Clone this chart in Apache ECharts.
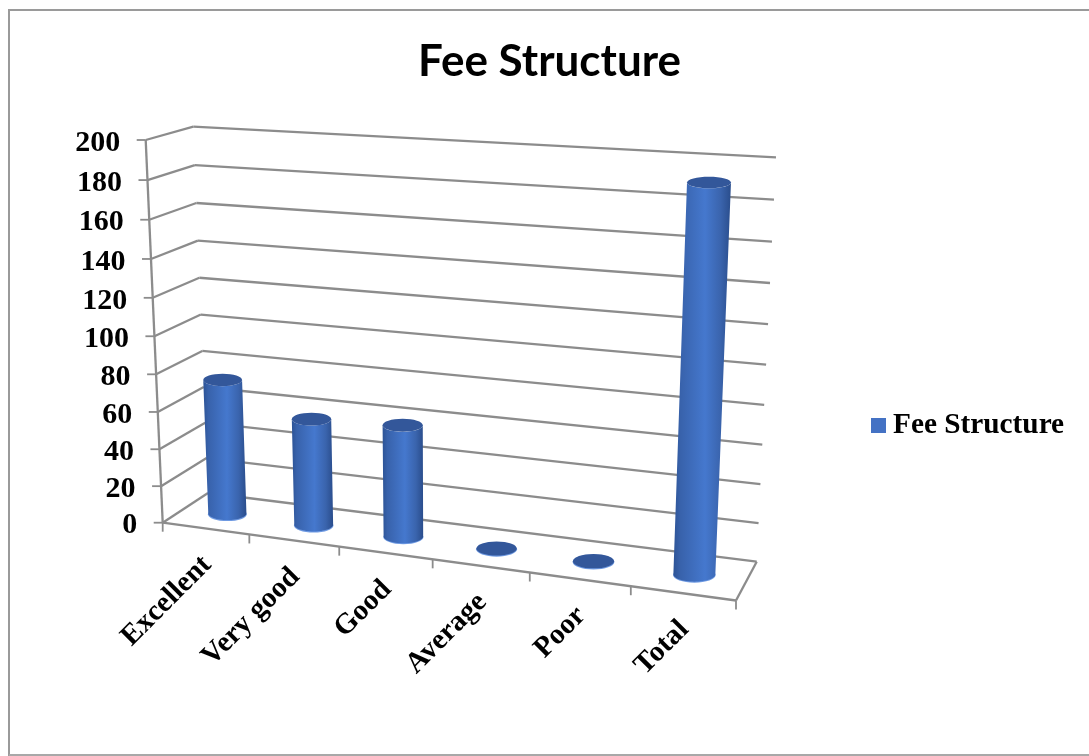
<!DOCTYPE html>
<html>
<head>
<meta charset="utf-8">
<style>html,body{margin:0;padding:0;background:#fff}#c{width:1089px;height:756px}</style>
<script src="https://cdn.jsdelivr.net/npm/echarts@6/dist/echarts.min.js"></script>
</head>
<body>
<div id="c"></div>
<script>
const titleText = 'Fee Structure';
const seriesName = 'Fee Structure';
const categories = ['Excellent', 'Very good', 'Good', 'Average', 'Poor', 'Total'];
const feeValues = [73, 57, 59, 0, 0, 191];
const yTicks = [0, 20, 40, 60, 80, 100, 120, 140, 160, 180, 200];

const G = {left: 100, top: 100, width: 600, height: 400};
const C = {
  flb: [162.7, 522.7], flt: [145.7, 140],
  blb: [208, 493],     blt: [193.3, 126.7],
  frb: [736, 600.5],   frt: [753.8, 175],
  brb: [756.7, 561.7], brt: [776, 157.3]
};
const LINE = '#8c8c8c';
const SERIF = '"Liberation Serif"';
const warp = (x, k) => k * x / (1 + (k - 1) * x);
const mix = (a, b, t) => [a[0] + (b[0] - a[0]) * t, a[1] + (b[1] - a[1]) * t];
function project(u, v, w) {
  const tu = warp(u, 0.89), tw = warp(w, 0.95);
  const fb = mix(C.flb, C.frb, tu), ft = mix(C.flt, C.frt, tu);
  const bb = mix(C.blb, C.brb, tu), bt = mix(C.blt, C.brt, tu);
  return mix(mix(fb, bb, v), mix(ft, bt, v), tw);
}
const toU = p => (p[0] - G.left) / G.width;
const toW = p => (G.top + G.height - p[1]) / G.height;
const seg = (a, b, w) => ({type: 'line', shape: {x1: a[0], y1: a[1], x2: b[0], y2: b[1]},
  style: {stroke: LINE, lineWidth: w || 2.3}, silent: true});

const cyl = () => new echarts.graphic.LinearGradient(0, 0, 1, 0, [
  {offset: 0, color: '#2c5396'}, {offset: 0.12, color: '#3862ab'},
  {offset: 0.55, color: '#4578ce'}, {offset: 0.82, color: '#3a64ad'},
  {offset: 1, color: '#2a4d8c'}]);

function renderBar(params, api) {
  const p0 = api.coord([api.value(0), 0]);
  const p1 = api.coord([api.value(0), api.value(1)]);
  const u = toU(p0), w = toW(p1);
  const b = project(u, 0.5, 0), t = project(u, 0.5, w);
  const k = warp(u, 0.89);
  const rb = 18.9 + 2.3 * k, rt = rb * (1 + 0.05 * w);
  const ryb = rb * 0.35, ryt = rt * (0.35 - 0.09 * w);
  const children = [
    {type: 'ellipse', shape: {cx: b[0], cy: b[1] + 0.8, rx: rb + 0.3, ry: ryb + 0.3},
      style: {fill: '#6f9ae2'}, silent: true}
  ];
  if (api.value(1) > 0) {
    const pts = [[t[0] - rt, t[1]]];
    for (let i = 0; i <= 32; i++) {
      const a = Math.PI - Math.PI * i / 32;
      pts.push([b[0] + rb * Math.cos(a), b[1] + ryb * Math.sin(a)]);
    }
    pts.push([t[0] + rt, t[1]]);
    for (let i = 1; i < 16; i++) {
      const a = Math.PI * i / 16;
      pts.push([t[0] + rt * Math.cos(a), t[1] + ryt * Math.sin(a)]);
    }
    children.push({type: 'polygon', shape: {points: pts}, style: {fill: cyl()}, silent: true});
  }
  children.push({type: 'ellipse', shape: {cx: t[0], cy: t[1], rx: rt, ry: ryt},
    style: {fill: '#33579a'}, silent: true});
  return {type: 'group', children};
}

function renderGrid(params, api) {
  const w = toW(api.coord([categories[0], api.value(0)]));
  const f = project(0, 0, w), bl = project(0, 1, w), br = project(1, 1, w);
  const children = [seg([f[0] - 9, f[1]], f, 1.8), seg(f, bl), seg(bl, br)];
  return {type: 'group', children};
}

function renderYLabel(params, api) {
  const w = toW(api.coord([categories[0], api.value(0)]));
  const f = project(0, 0, w);
  return {type: 'text', x: f[0] - 25.5, y: f[1] + 3, style: {text: String(api.value(0)),
    align: 'right', verticalAlign: 'middle', font: 'bold 30px ' + SERIF, fill: '#000'}, silent: true};
}

function renderFrame() {
  const fl = project(0, 0, 0), fr = project(1, 0, 0), br = project(1, 1, 0), top = project(0, 0, 1);
  const children = [seg(top, fl), seg(fl, fr), seg(fr, br)];
  for (let i = 0; i <= categories.length; i++) {
    const p = project(i / categories.length, 0, 0);
    children.push(seg(p, [p[0], p[1] + 9], 1.8));
  }
  return {type: 'group', children};
}

function renderXLabel(params, api) {
  const u = toU(api.coord([api.value(0), 0]));
  const p = project(u, 0, 0);
  return {type: 'text', x: p[0] + 1.5, y: p[1] + 32, rotation: Math.PI / 4,
    style: {text: categories[api.value(0)], align: 'right', verticalAlign: 'middle',
      font: 'bold 29px ' + SERIF, fill: '#000'}, silent: true};
}

const chart = echarts.init(document.getElementById('c'), null, {renderer: 'canvas'});
chart.setOption({
  animation: false,
  backgroundColor: '#fff',
  title: {text: titleText, top: 40, padding: 0, textAlign: 'center', left: 549.5,
    textStyle: {fontFamily: 'Lato', fontWeight: 'bold', fontSize: 44, color: '#000'}},
  legend: {data: [seriesName], left: 871, top: 411, icon: 'rect', itemWidth: 15, itemHeight: 15, itemGap: 0,
    padding: 0, textStyle: {fontFamily: SERIF, fontWeight: 'bold', fontSize: 29.3, color: '#000', padding: [0, 0, 0, 2]},
    selectedMode: false},
  grid: G,
  xAxis: {type: 'category', data: categories, show: false},
  yAxis: {type: 'value', min: 0, max: 200, interval: 20, show: false},
  graphic: [{type: 'polyline', silent: true, shape: {points: [[9, 756], [9, 10], [1089, 10]]},
    style: {stroke: '#9a9a9a', fill: null, lineWidth: 2}},
    {type: 'line', silent: true, shape: {x1: 9, y1: 755, x2: 1089, y2: 755}, style: {stroke: '#a8a8a8', lineWidth: 2}}],
  series: [
    {name: 'grid', type: 'custom', coordinateSystem: 'cartesian2d', renderItem: renderGrid, clip: false, z: 1,
      data: yTicks.map(v => [v]), encode: {y: 0}},
    {name: 'frame', type: 'custom', coordinateSystem: 'cartesian2d', renderItem: renderFrame, clip: false, z: 2,
      data: [[0, 0]]},
    {name: 'ylabels', type: 'custom', coordinateSystem: 'cartesian2d', renderItem: renderYLabel, clip: false, z: 3,
      data: yTicks.map(v => [v]), encode: {y: 0}},
    {name: 'xlabels', type: 'custom', coordinateSystem: 'cartesian2d', renderItem: renderXLabel, clip: false, z: 3,
      data: categories.map((c, i) => [i, 0])},
    {name: seriesName, type: 'custom', coordinateSystem: 'cartesian2d', renderItem: renderBar, clip: false, z: 4,
      itemStyle: {color: '#4472c4'},
      data: categories.map((c, i) => [i, feeValues[i]]), encode: {x: 0, y: 1}}
  ]
});
</script>
</body>
</html>
